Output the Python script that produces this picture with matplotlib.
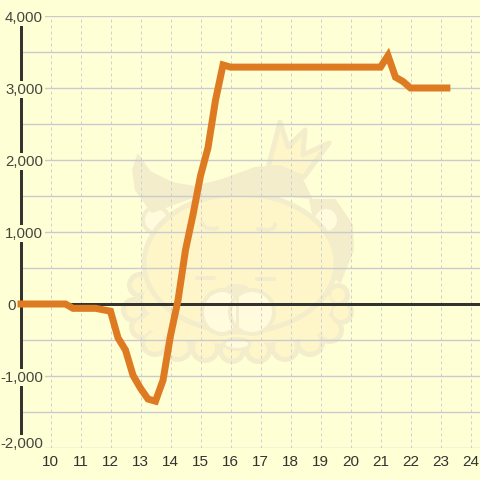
import matplotlib
matplotlib.use("Agg")
import matplotlib.pyplot as plt
from matplotlib.patches import Circle, Ellipse, Polygon
from matplotlib.ticker import FixedLocator

hours = [8.9, 10.5, 10.75, 11.5, 11.75, 12, 12.25, 12.5, 12.75, 13, 13.25, 13.5, 13.75,
         14, 14.25, 14.5, 14.75, 15, 15.25, 15.5, 15.75, 16, 21, 21.25, 21.5, 21.75, 22, 23.33]
values = [0, 0, -60, -60, -80, -100, -470, -640, -990, -1170, -1320, -1350, -1060,
          -440, 50, 750, 1240, 1780, 2170, 2830, 3320, 3290, 3290, 3450, 3150, 3090, 3000, 3000]
x_ticks = list(range(10, 25))
y_ticks = [-2000, -1000, 0, 1000, 2000, 3000, 4000]
y_minor = [-1500, -500, 500, 1500, 2500, 3500]

BG = "#FFFFD6"
GRID = "#CACACF"
VGRID = "#D0D0D4"
DARK = "#333330"
ORANGE = "#DE7B22"
OUT = "#F3EDCB"
FILL = "#FEF6C8"
PALE = "#FFFBDC"
px = 0.72

plt.rcParams["font.family"] = ["Liberation Sans", "DejaVu Sans"]
fig = plt.figure(figsize=(4.8, 4.8), dpi=100, facecolor=BG)

# faint mascot watermark behind the chart, in pixel coordinates
wm = fig.add_axes([0, 0, 1, 1], zorder=0)
wm.set_xlim(0, 480)
wm.set_ylim(480, 0)
wm.axis("off")

def poly(pts, fc, ec=OUT, lw=5):
    wm.add_patch(Polygon(pts, closed=True, fc=fc, ec=ec, lw=lw * px, joinstyle="round"))

# crown
poly([(268, 168), (280, 122), (288, 147), (305, 130), (303, 155), (329, 143), (304, 177)], FILL)
# right hair flap
poly([(310, 200), (335, 200), (352, 225), (353, 250), (340, 282), (325, 270)], OUT, lw=2)
# beard puffs
puffs = [(140, 285, 11), (134, 310, 11), (142, 327, 11), (155, 342, 13), (178, 347, 13),
         (205, 348, 13), (232, 350, 12), (258, 350, 12), (285, 347, 13), (310, 342, 13),
         (330, 330, 12), (341, 312, 11), (338, 295, 10), (160, 300, 20), (315, 305, 20)]
for x0, y0, r in puffs:
    wm.add_patch(Circle((x0, y0), r + 2, fc=OUT, ec="none"))
for x0, y0, r in puffs:
    wm.add_patch(Circle((x0, y0), r - 3, fc=FILL, ec="none"))
wm.add_patch(Ellipse((238, 322), 190, 44, fc=FILL, ec="none"))
# ears
wm.add_patch(Circle((156, 220), 13, fc=PALE, ec=OUT, lw=4 * px))
wm.add_patch(Circle((326, 220), 13, fc=PALE, ec=OUT, lw=4 * px))
# face
wm.add_patch(Ellipse((240, 263), 192, 138, fc=FILL, ec=OUT, lw=5 * px))
# hair
poly([(138, 155), (150, 172), (172, 183), (195, 187), (222, 180), (255, 168), (280, 166),
      (300, 175), (311, 198), (280, 195), (237, 193), (190, 198), (152, 212), (136, 190), (133, 170)], OUT, lw=2)
# eyes and whiskers
wm.plot([202, 206, 214, 217], [223, 228, 229, 228], color=OUT, lw=4 * px, solid_capstyle="round")
wm.plot([258, 268, 274, 275], [229, 230, 228, 224], color=OUT, lw=4 * px, solid_capstyle="round")
wm.plot([197, 214], [278, 278], color=OUT, lw=4 * px, solid_capstyle="round")
wm.plot([257, 274], [279, 279], color=OUT, lw=4 * px, solid_capstyle="round")
# muzzle
wm.add_patch(Ellipse((222, 312), 40, 44, fc=PALE, ec=OUT, lw=4 * px))
wm.add_patch(Ellipse((252, 312), 44, 44, fc=PALE, ec=OUT, lw=4 * px))
wm.add_patch(Ellipse((237, 344), 26, 11, fc=PALE, ec=OUT, lw=3 * px))
wm.plot([237, 237], [292, 326], color=OUT, lw=3 * px)
wm.add_patch(Ellipse((237, 289), 24, 10, fc=OUT, ec="none"))

# chart
ax = fig.add_axes([20.5 / 480, 32 / 480, 459.5 / 480, 432 / 480], zorder=1)
ax.patch.set_alpha(0)
ax.set_xlim(9, 9 + 459.5 / 30)
ax.set_ylim(-2000, 4000)
for s in ("top", "right", "bottom"):
    ax.spines[s].set_visible(False)
ax.spines["left"].set_color(DARK)
ax.spines["left"].set_linewidth(3 * px)
ax.spines["left"].set_zorder(2.2)
ax.set_axisbelow(True)

ax.set_xticks(x_ticks)
ax.set_yticks(y_ticks)
ax.set_yticklabels([])
ax.yaxis.set_minor_locator(FixedLocator(y_minor))
ax.tick_params(axis="both", which="both", length=0)
ax.tick_params(axis="x", labelsize=11, labelcolor=DARK, pad=5)
ax.grid(axis="y", which="both", color=GRID, lw=1.4 * px)
ax.grid(axis="x", which="major", color=VGRID, lw=1.0 * px, linestyle=(0, (3, 3)))

ax.axhline(0, color=DARK, lw=3 * px, zorder=2.1)

for v in y_ticks:
    right = 16 if v == 0 else 43
    dy = 6 if v == -2000 else 0
    ax.annotate(f"{v:,}", xy=(0, v), xycoords=ax.get_yaxis_transform(),
                xytext=((right - 20.5) * px, dy * px), textcoords="offset points",
                ha="right", va="center_baseline", fontsize=10.8, color="#45453F", zorder=2.5,
                annotation_clip=False,
                bbox=dict(boxstyle="square,pad=0.1", fc=BG, ec="none"))

ax.plot(hours, values, color=ORANGE, lw=7 * px, solid_capstyle="butt",
        solid_joinstyle="miter", zorder=3, clip_on=False)

fig.savefig("out.png", dpi=100, facecolor=BG)
